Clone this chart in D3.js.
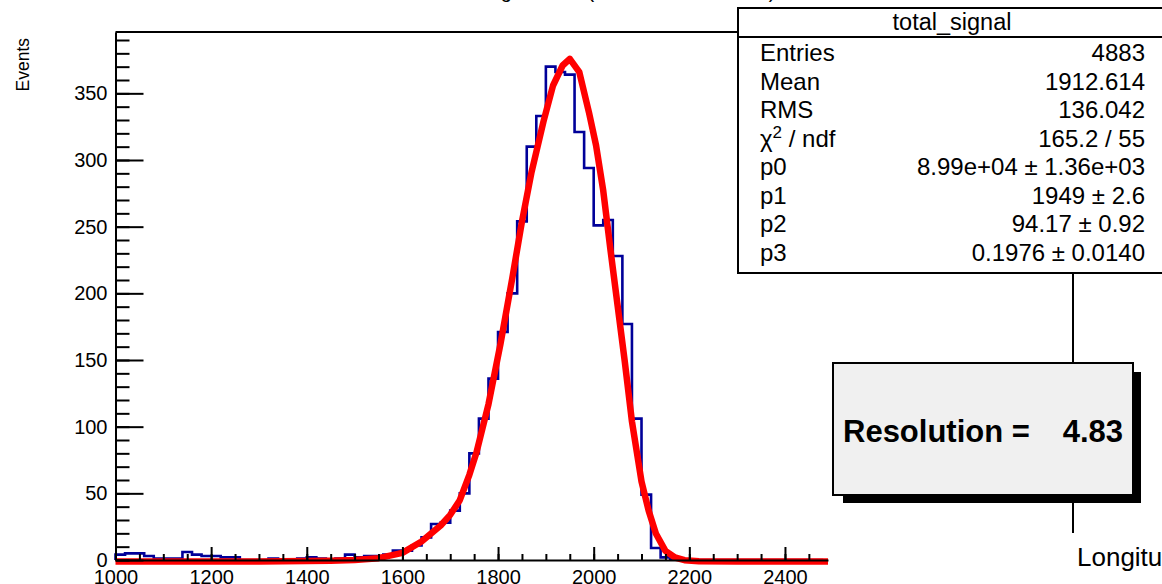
<!DOCTYPE html>
<html>
<head>
<meta charset="utf-8">
<script src="https://cdn.jsdelivr.net/npm/d3@7"></script>
<style>
  body { margin: 0; background: #fff; }
  svg { display: block; font-family: "Liberation Sans", Arial, sans-serif; }
</style>
</head>
<body>
<div id="chart"></div>
<script>
// histogram: 20-unit bins starting at 1000
var binStart = 1000;
var binWidth = 20;
var binCounts = [
    4, 5, 5, 3, 1, 1, 1, 6, 4, 3, 3, 2, 2, 0, 0, 0, 1, 0, 0, 1,
    2, 1, 0, 1, 4, 2, 3, 3, 4, 7, 7, 11, 17, 27, 28, 37, 50, 80, 106, 136,
    171, 200, 254, 310, 333, 370, 366, 364, 321, 294, 251, 255, 228, 177, 106, 49, 9, 2, 1, 0,
    0, 0, 0, 0, 0, 0, 0, 0, 0, 0, 0, 0, 0, 0
];

// fitted curve
var fitX = [1000, 1100, 1200, 1300, 1400, 1450, 1500, 1550, 1600, 1640, 1680, 1700, 1720, 1740, 1755,
    1780, 1805, 1830, 1850, 1870, 1895, 1915, 1935, 1950, 1970, 1990, 2005, 2020, 2035, 2050,
    2065, 2080, 2100, 2115, 2130, 2150, 2170, 2190, 2220, 2300, 2400, 2490];
var fitY = [0, 0, 0, 0, 0.3, 0.6, 1.2, 2.5, 6.5, 15, 27, 35, 46, 65, 82,
    118, 163, 213, 255, 292, 330, 357, 372, 377, 367, 337, 312, 278, 234, 192,
    150, 105, 60, 38, 21, 8, 3, 1, 0.2, 0, 0, 0];

var xMajorTicks = [1000, 1200, 1400, 1600, 1800, 2000, 2200, 2400];
var yMajorTicks = [0, 50, 100, 150, 200, 250, 300, 350];

var statTitle = "total_signal";
var statNames = ["Entries", "Mean", "RMS", "chi2", "p0", "p1", "p2", "p3"];
var statValues = ["4883", "1912.614", "136.042", "165.2 / 55", "8.99e+04 \u00b1 1.36e+03",
    "1949 \u00b1 2.6", "94.17 \u00b1 0.92", "0.1976 \u00b1 0.0140"];
var resolutionValue = "4.83";

var width = 1162, height = 584;
var margin = { top: 32, left: 115.5, right: 828, bottom: 560 };

var x = d3.scaleLinear().domain([1000, 2490]).range([margin.left, margin.right]);
var y = d3.scaleLinear().domain([0, 396]).range([margin.bottom, margin.top]);

var svg = d3.select("#chart").append("svg")
    .attr("width", width)
    .attr("height", height);

svg.append("rect").attr("width", width).attr("height", height).attr("fill", "#fff");

// title, mostly cut off at the top of the canvas
svg.append("text")
    .attr("x", 607).attr("y", -2)
    .attr("text-anchor", "middle")
    .attr("font-size", 20)
    .text("Total signal sum (Sum of ADC counts)");

// top frame line
svg.append("line")
    .attr("x1", x(1000)).attr("x2", margin.right)
    .attr("y1", margin.top).attr("y2", margin.top)
    .attr("stroke", "#000").attr("stroke-width", 2);

// histogram outline
var histPts = [[binStart, 0]];
binCounts.forEach(function(c, i) {
    var lo = binStart + i * binWidth;
    histPts.push([lo, c]);
    histPts.push([lo + binWidth, c]);
});
histPts.push([binStart + binCounts.length * binWidth, 0]);

var line = d3.line()
    .x(function(d) { return x(d[0]); })
    .y(function(d) { return y(d[1]); });

svg.append("path")
    .attr("d", line(histPts))
    .attr("fill", "none")
    .attr("stroke", "#000099")
    .attr("stroke-width", 2.6)
    .attr("stroke-linejoin", "miter");

// fit curve
svg.append("path")
    .attr("d", line(fitX.map(function(v, i) { return [v, fitY[i]]; })))
    .attr("transform", "translate(0,1.5)")
    .attr("fill", "none")
    .attr("stroke", "#ff0000")
    .attr("stroke-width", 6.5)
    .attr("stroke-linejoin", "round");

// axes
var xMinor = svg.append("g")
    .attr("transform", "translate(0," + margin.bottom + ")")
    .call(d3.axisBottom(x).tickValues(d3.range(1000, 2490, 50)).tickSize(-6).tickSizeOuter(0).tickFormat(""));
xMinor.select(".domain").remove();

var xAxis = svg.append("g")
    .attr("transform", "translate(0," + margin.bottom + ")")
    .call(d3.axisBottom(x).tickValues(xMajorTicks).tickSize(-13).tickSizeOuter(0).tickPadding(10)
        .tickFormat(d3.format("d")));

var yMinor = svg.append("g")
    .attr("transform", "translate(" + margin.left + ",0)")
    .call(d3.axisLeft(y).tickValues(d3.range(0, 391, 10)).tickSize(-14).tickSizeOuter(0).tickFormat(""));
yMinor.select(".domain").remove();

var yAxis = svg.append("g")
    .attr("transform", "translate(" + margin.left + ",0)")
    .call(d3.axisLeft(y).tickValues(yMajorTicks).tickSize(-28).tickSizeOuter(0).tickPadding(8)
        .tickFormat(d3.format("d")));

svg.selectAll(".tick line").attr("stroke", "#000").attr("stroke-width", 2);
svg.selectAll(".domain").attr("stroke", "#000").attr("stroke-width", 2);
[xAxis, yAxis].forEach(function(g) {
    g.attr("font-family", null).attr("font-size", null);
    g.selectAll("text").attr("font-size", 20).attr("fill", "#000");
});

svg.append("text")
    .attr("transform", "translate(29,38) rotate(-90)")
    .attr("text-anchor", "end")
    .attr("font-size", 17.5)
    .text("Events");

// connector line behind the resolution box
svg.append("line")
    .attr("x1", 1073).attr("x2", 1073)
    .attr("y1", 273).attr("y2", 533)
    .attr("stroke", "#000").attr("stroke-width", 2);

svg.append("text")
    .attr("x", 1077).attr("y", 566)
    .attr("font-size", 26)
    .text("Longitudinal signal");

// stats box
var stats = svg.append("g");
stats.append("rect")
    .attr("x", 738).attr("y", 8).attr("width", 440).attr("height", 265)
    .attr("fill", "#fff").attr("stroke", "#000").attr("stroke-width", 2);
stats.append("line")
    .attr("x1", 738).attr("x2", 1170).attr("y1", 37).attr("y2", 37)
    .attr("stroke", "#000").attr("stroke-width", 2);
stats.append("text")
    .attr("x", 952).attr("y", 29.5)
    .attr("text-anchor", "middle")
    .attr("font-size", 23.5)
    .text(statTitle);

var rows = stats.selectAll("g.row")
    .data(statNames)
    .enter().append("g")
    .attr("class", "row")
    .attr("transform", function(d, i) { return "translate(0," + (61 + i * 28.57) + ")"; });

rows.append("text")
    .attr("x", 760)
    .attr("font-size", 24)
    .each(function(d) {
        var t = d3.select(this);
        if (d === "chi2") {
            t.append("tspan").text("\u03c7");
            t.append("tspan").attr("font-size", 17).attr("dy", -9).text("2");
            t.append("tspan").attr("dy", 9).text(" / ndf");
        } else {
            t.text(d);
        }
    });

rows.append("text")
    .attr("x", 1145)
    .attr("text-anchor", "end")
    .attr("font-size", 24)
    .text(function(d, i) { return statValues[i]; });

// resolution box with shadow
svg.append("rect")
    .attr("x", 843).attr("y", 372).attr("width", 298).attr("height", 131)
    .attr("fill", "#000");
svg.append("rect")
    .attr("x", 833).attr("y", 363).attr("width", 300).attr("height", 132)
    .attr("fill", "#f0f0f0").attr("stroke", "#000").attr("stroke-width", 2);
svg.append("text")
    .attr("x", 843).attr("y", 442)
    .attr("font-size", 31).attr("font-weight", "bold")
    .text("Resolution =");
svg.append("text")
    .attr("x", 1123).attr("y", 442)
    .attr("text-anchor", "end")
    .attr("font-size", 31).attr("font-weight", "bold")
    .text(resolutionValue);
</script>
</body>
</html>
